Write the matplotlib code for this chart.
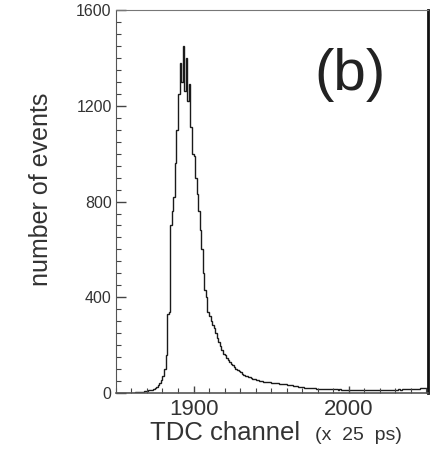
import numpy as np
import matplotlib
matplotlib.use("Agg")
import matplotlib.pyplot as plt
from matplotlib.ticker import MultipleLocator

plt.rcParams['font.family'] = ['Liberation Sans', 'DejaVu Sans']

# TDC channel counts, one bin per channel, 1850 .. 2050
first_channel = 1850
counts = [
    0, 0, 0, 0, 0, 0, 0, 0, 1, 1,                                  # 1850
    2, 2, 3, 3, 4, 5, 5, 6, 7, 8,                                  # 1860
    9, 11, 12, 14, 17, 20, 25, 32, 42, 54,                         # 1870
    70, 100, 160, 330, 340, 700, 760, 820, 960, 1100,              # 1880
    1250, 1380, 1300, 1450, 1260, 1400, 1220, 1290, 1110, 1000,    # 1890
    990, 900, 830, 760, 680, 600, 500, 430, 400, 337,              # 1900
    320, 300, 285, 270, 250, 228, 212, 195, 180, 165,              # 1910
    158, 148, 140, 130, 122, 115, 108, 100, 96, 90,                # 1920
    86, 80, 76, 72, 70, 68, 66, 62, 60, 58,                        # 1930
    56, 54, 52, 50, 50, 48, 46, 46, 44, 44,                        # 1940
    42, 42, 41, 40, 40, 39, 38, 38, 37, 36,                        # 1950
    35, 34, 33, 32, 30, 29, 28, 27, 26, 25,                        # 1960
    24, 23, 22, 22, 21, 20, 20, 19, 19, 18,                        # 1970
    18, 17, 17, 16, 16, 16, 15, 16, 15, 16,                        # 1980
    16, 15, 15, 14, 15, 14, 14, 13, 14, 13,                        # 1990
    13, 13, 12, 13, 12, 12, 12, 13, 12, 12,                        # 2000
    12, 12, 11, 12, 12, 11, 12, 12, 12, 12,                        # 2010
    12, 12, 13, 12, 13, 13, 13, 14, 13, 14,                        # 2020
    14, 14, 15, 14, 15, 15, 16, 15, 16, 16,                        # 2030
    16, 17, 17, 18, 18, 18, 19, 19, 20, 20,                        # 2040
    21,                                                            # 2050
]
edges = np.arange(first_channel, first_channel + len(counts) + 1)

xticks = [1900, 2000]
yticks = [0, 400, 800, 1200, 1600]

fig = plt.figure(figsize=(4.34, 4.57), dpi=100)
ax = fig.add_axes([0.267, 0.140, 0.719, 0.838])

ax.stairs(counts, edges, color='#1a1a1a', linewidth=1.0)

ax.set_xlim(1850, 2051)
ax.set_ylim(0, 1600)
ax.set_xticks(xticks)
ax.set_xticklabels([str(t) for t in xticks], fontsize=16, color='#333333')
ax.set_yticks(yticks)
ax.set_yticklabels([str(t) for t in yticks], fontsize=11.5, color='#333333')
ax.xaxis.set_minor_locator(MultipleLocator(10))
ax.yaxis.set_minor_locator(MultipleLocator(50))
ax.tick_params(which='both', direction='in', color='#444444')
ax.tick_params(axis='y', which='major', length=7, width=1, pad=3)
ax.tick_params(axis='y', which='minor', length=3.5, width=0.8)
ax.tick_params(axis='x', which='major', length=5, width=1, pad=4)
ax.tick_params(axis='x', which='minor', length=3.5, width=0.8)

ax.spines['top'].set_color('#777777')
ax.spines['top'].set_linewidth(0.8)
ax.spines['right'].set_color('#111111')
ax.spines['right'].set_linewidth(2.0)
ax.spines['left'].set_color('#555555')
ax.spines['bottom'].set_color('#555555')
ax.spines['bottom'].set_linewidth(1.2)

ax.text(0.75, 0.83, '(b)', transform=ax.transAxes, fontsize=42,
        ha='center', va='center', color='#222222')

fig.text(0.095, 0.585, 'number of events', rotation=90, fontsize=18,
         ha='center', va='center', color='#333333')
fig.text(0.345, 0.037, 'TDC channel', fontsize=18.5, ha='left',
         va='baseline', color='#333333')
fig.text(0.726, 0.037, '(x  25  ps)', fontsize=14, ha='left',
         va='baseline', color='#333333')

fig.savefig('out.png', dpi=100)
